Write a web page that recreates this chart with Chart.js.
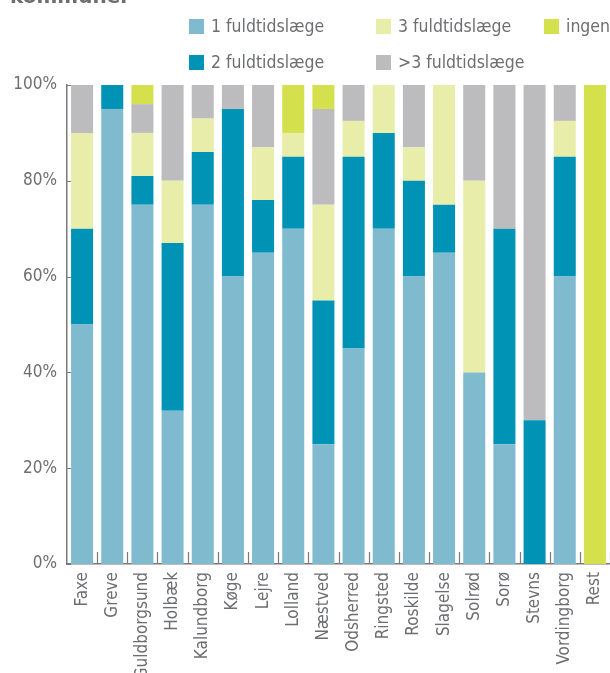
<!DOCTYPE html>
<html>
<head>
<meta charset="utf-8">
<script src="https://cdn.jsdelivr.net/npm/chart.js@4"></script>
<style>
  body { margin: 0; background: #fff; }
  #wrap { position: relative; width: 610px; height: 673px; overflow: hidden; }
  #title { position: absolute; left: 10px; top: -14px; font: bold 20px "DejaVu Sans", sans-serif; color: #6d6e71; line-height: 20px; }
  .lg { position: absolute; font: 17.5px "DejaVu Sans Condensed", "DejaVu Sans", sans-serif; color: #6d6e71; white-space: nowrap; line-height: 20px; }
  .lg span { display: inline-block; width: 15px; height: 15px; vertical-align: -2px; margin-right: 7px; }
</style>
</head>
<body>
<div id="wrap">
  <div id="title">kommuner</div>
  <div id="legend"></div>
  <canvas id="chart" width="610" height="673"></canvas>
</div>

<script>
  const kommuner = ["Faxe", "Greve", "Guldborgsund", "Holbæk", "Kalundborg", "Køge", "Lejre", "Lolland",
    "Næstved", "Odsherred", "Ringsted", "Roskilde", "Slagelse", "Solrød", "Sorø", "Stevns", "Vordingborg", "Rest"];

  const en     = [50, 95, 75, 32, 75, 60, 65, 70, 25, 45,  70, 60, 65, 40, 25,  0, 60,   0];
  const to     = [20,  5,  6, 35, 11, 35, 11, 15, 30, 40,  20, 20, 10,  0, 45, 30, 25,   0];
  const tre    = [20,  0,  9, 13,  7,  0, 11,  5, 20, 7.5, 10,  7, 25, 40,  0,  0, 7.5, 0];
  const overTre= [10,  0,  6, 20,  7,  5, 13,  0, 20, 7.5,  0, 13,  0, 20, 30, 70, 7.5, 0];
  const ingen  = [ 0,  0,  4,  0,  0,  0,  0, 10,  5,  0,   0,  0,  0,  0,  0,  0,  0, 100];

  const yTicks = [0, 20, 40, 60, 80, 100];

  const series = [
    { label: "1 fuldtidslæge", data: en, color: "#7fbace", col: 0, row: 0 },
    { label: "2 fuldtidslæge", data: to, color: "#0093b5", col: 0, row: 1 },
    { label: "3 fuldtidslæge", data: tre, color: "#e8edaa", col: 1, row: 0 },
    { label: ">3 fuldtidslæge", data: overTre, color: "#bcbcbe", col: 1, row: 1 },
    { label: "ingen", data: ingen, color: "#d4e04c", col: 2, row: 0 }
  ];

  // legend laid out in columns like the original
  const colX = [189, 376, 544];
  const rowY = [16, 52];
  const legendEl = document.getElementById("legend");
  series.forEach(function(s) {
    const d = document.createElement("div");
    d.className = "lg";
    d.style.left = colX[s.col] + "px";
    d.style.top = rowY[s.row] + "px";
    d.innerHTML = '<span style="background:' + s.color + '"></span>';
    d.appendChild(document.createTextNode(s.label));
    legendEl.appendChild(d);
  });

  const axisColor = "#7a7a7a";
  const textColor = "#6d6e71";
  const fontFam = '"DejaVu Sans Condensed", "DejaVu Sans", sans-serif';

  // small inward tick marks
  const innerTicks = {
    id: "innerTicks",
    afterDraw(chart) {
      const ctx = chart.ctx;
      const xs = chart.scales.x, ys = chart.scales.y;
      const step = xs.getPixelForValue(1) - xs.getPixelForValue(0);
      ctx.save();
      ctx.strokeStyle = axisColor;
      ctx.lineWidth = 1.2;
      ctx.beginPath();
      for (let i = 1; i <= kommuner.length; i++) {
        const x = Math.round(xs.getPixelForValue(i) - step / 2) + 0.5;
        ctx.moveTo(x, ys.bottom);
        ctx.lineTo(x, ys.bottom - 12);
      }
      yTicks.forEach(function(v) {
        const y = Math.round(ys.getPixelForValue(v)) + 0.5;
        ctx.moveTo(xs.left, y);
        ctx.lineTo(xs.left + 4, y);
      });
      ctx.stroke();
      ctx.restore();
    }
  };

  new Chart(document.getElementById("chart"), {
    type: "bar",
    data: {
      labels: kommuner,
      datasets: series.map(function(s) {
        return {
          label: s.label,
          data: s.data,
          backgroundColor: s.color,
          borderWidth: 0,
          barPercentage: 0.73,
          categoryPercentage: 1
        };
      })
    },
    options: {
      responsive: false,
      animation: false,
      events: [],
      layout: { padding: { top: 85, right: 0, left: 0, bottom: 0 } },
      plugins: { legend: { display: false }, tooltip: { enabled: false } },
      scales: {
        x: {
          stacked: true,
          z: 1,
          grid: { display: false },
          border: { display: true, color: axisColor, width: 1.5 },
          ticks: {
            minRotation: 90, maxRotation: 90, autoSkip: false, padding: 0,
            color: textColor, font: { family: fontFam, size: 17 }
          },
          afterFit: function(s) { s.height = 109; s.paddingLeft = 0; s.paddingRight = 0; }
        },
        y: {
          stacked: true,
          min: 0, max: 100,
          z: 1,
          grid: { display: false },
          border: { display: true, color: axisColor, width: 1.5 },
          afterBuildTicks: function(s) { s.ticks = yTicks.map(function(v) { return { value: v }; }); },
          ticks: {
            padding: 2,
            color: textColor, font: { family: fontFam, size: 17 },
            callback: function(v) { return v + "%"; }
          },
          afterFit: function(s) { s.width = 67; s.paddingTop = 0; s.paddingBottom = 0; }
        }
      }
    },
    plugins: [innerTicks]
  });
</script>
</body>
</html>
